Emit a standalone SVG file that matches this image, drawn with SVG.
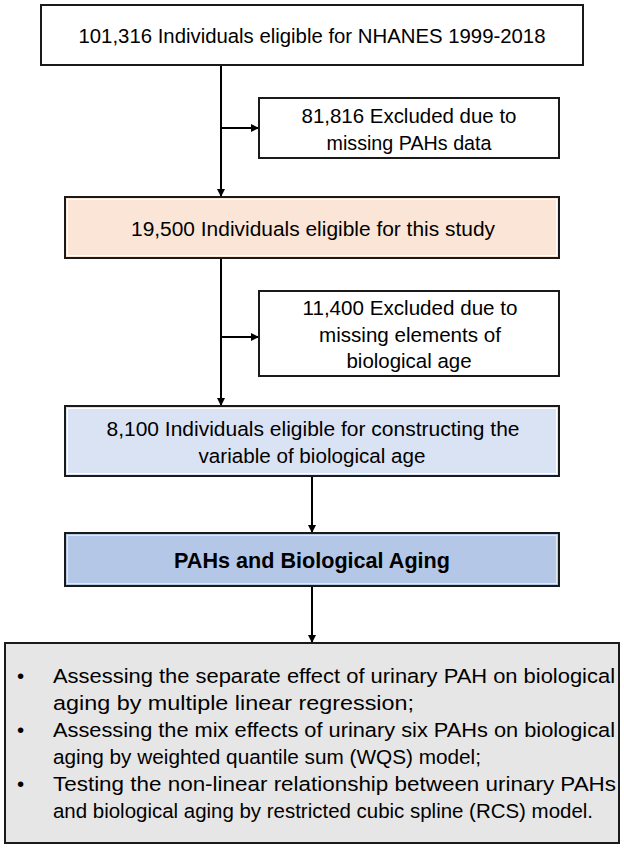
<svg xmlns="http://www.w3.org/2000/svg" width="624" height="848" viewBox="0 0 624 848">
<defs>
<marker id="ah" markerWidth="8" markerHeight="8" refX="8" refY="4" orient="auto" markerUnits="userSpaceOnUse">
<path d="M0,0 L8,4 L0,8 Z" fill="#000"/>
</marker>
<style>
.box{stroke:#1a1a1a;stroke-width:2}
.inner{fill:none;stroke:#fff;stroke-width:1}
.t{font-family:"Liberation Sans",Arial,sans-serif;font-size:20.5px;fill:#000}
.c{text-anchor:middle}
.b{font-weight:bold;font-size:21.3px}
.ln{stroke:#000;stroke-width:2;fill:none}
</style>
</defs>
<rect width="624" height="848" fill="#fff"/>
<g id="connectors">
<line class="ln" x1="221" y1="65" x2="221" y2="197" marker-end="url(#ah)"/>
<line class="ln" x1="221" y1="128" x2="259" y2="128" marker-end="url(#ah)"/>
<line class="ln" x1="221" y1="258" x2="221" y2="406" marker-end="url(#ah)"/>
<line class="ln" x1="221" y1="337" x2="259" y2="337" marker-end="url(#ah)"/>
<line class="ln" x1="312" y1="476" x2="312" y2="533" marker-end="url(#ah)"/>
<line class="ln" x1="312" y1="586" x2="312" y2="643" marker-end="url(#ah)"/>
</g>
<g id="n1">
<rect class="box" x="41" y="5" width="542" height="60" fill="#fff"/>
<text class="t c" x="312" y="43" textLength="467" lengthAdjust="spacingAndGlyphs">101,316 Individuals eligible for NHANES 1999-2018</text>
</g>
<g id="n2">
<rect class="box" x="259" y="98" width="300" height="60" fill="#fff"/>
<text class="t c" x="409" y="123" textLength="215" lengthAdjust="spacingAndGlyphs">81,816 Excluded due to</text>
<text class="t c" x="409" y="150" textLength="165" lengthAdjust="spacingAndGlyphs">missing PAHs data</text>
</g>
<g id="n3">
<rect class="box" x="65" y="197" width="494" height="61" fill="#FBE5D6"/>
<rect class="inner" x="67.5" y="199.5" width="489" height="56"/>
<text class="t c" x="313" y="236" textLength="364" lengthAdjust="spacingAndGlyphs">19,500 Individuals eligible for this study</text>
</g>
<g id="n4">
<rect class="box" x="259" y="291" width="300" height="85" fill="#fff"/>
<text class="t c" x="410" y="315" textLength="215" lengthAdjust="spacingAndGlyphs">11,400 Excluded due to</text>
<text class="t c" x="410" y="342" textLength="182" lengthAdjust="spacingAndGlyphs">missing elements of</text>
<text class="t c" x="409" y="368" textLength="125" lengthAdjust="spacingAndGlyphs">biological age</text>
</g>
<g id="n5">
<rect class="box" x="65" y="406" width="494" height="70" fill="#DAE3F3"/>
<rect class="inner" x="67.5" y="408.5" width="489" height="65"/>
<text class="t c" x="313" y="436" textLength="413" lengthAdjust="spacingAndGlyphs">8,100 Individuals eligible for constructing the</text>
<text class="t c" x="312" y="463" textLength="227" lengthAdjust="spacingAndGlyphs">variable of biological age</text>
</g>
<g id="n6">
<rect class="box" x="65" y="533" width="494" height="53" fill="#B4C7E7"/>
<rect class="inner" x="67.5" y="535.5" width="489" height="48" stroke-opacity="0.6"/>
<text class="t c b" x="312" y="568" textLength="276" lengthAdjust="spacingAndGlyphs">PAHs and Biological Aging</text>
</g>
<g id="n7">
<rect class="box" x="5" y="643" width="614" height="200" fill="#E7E6E6"/>
<text class="t" x="17" y="683">•</text>
<text class="t" x="53" y="683" textLength="562" lengthAdjust="spacingAndGlyphs">Assessing the separate effect of urinary PAH on biological</text>
<text class="t" x="53" y="710" textLength="361" lengthAdjust="spacingAndGlyphs">aging by multiple linear regression;</text>
<text class="t" x="17" y="737">•</text>
<text class="t" x="53" y="737" textLength="562" lengthAdjust="spacingAndGlyphs">Assessing the mix effects of urinary six PAHs on biological</text>
<text class="t" x="53" y="764" textLength="428" lengthAdjust="spacingAndGlyphs">aging by weighted quantile sum (WQS) model;</text>
<text class="t" x="17" y="791">•</text>
<text class="t" x="53" y="791" textLength="563" lengthAdjust="spacingAndGlyphs">Testing the non-linear relationship between urinary PAHs</text>
<text class="t" x="53" y="818" textLength="540" lengthAdjust="spacingAndGlyphs">and biological aging by restricted cubic spline (RCS) model.</text>
</g>
</svg>
